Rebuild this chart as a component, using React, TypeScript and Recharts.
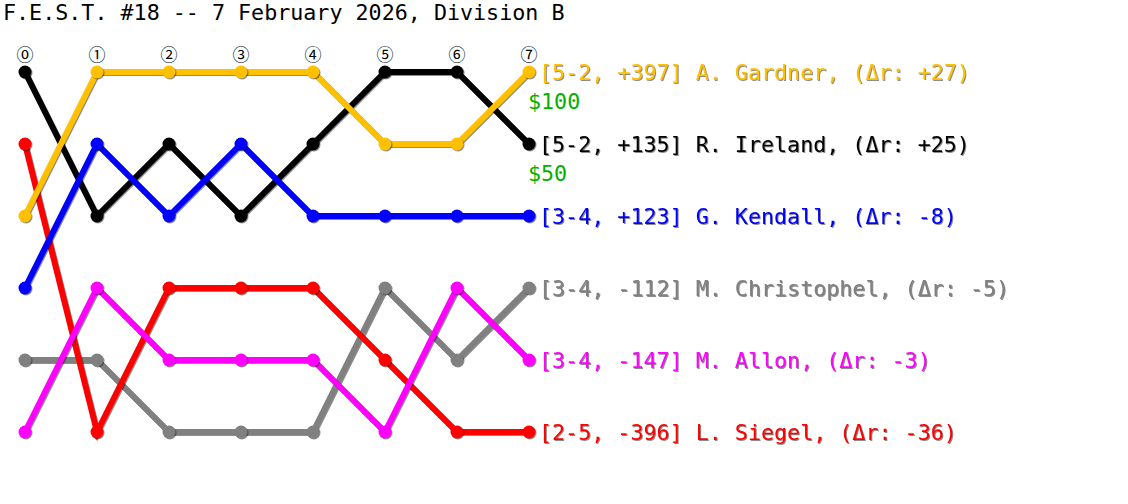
import React from 'react';
import { LineChart, Line, XAxis, YAxis } from 'recharts';

const title = 'F.E.S.T. #18 -- 7 February 2026, Division B';
const rounds = [0, 1, 2, 3, 4, 5, 6, 7];
const roundLabels = ['⓪', '①', '②', '③', '④', '⑤', '⑥', '⑦'];

const gardner = [3, 1, 1, 1, 1, 2, 2, 1];
const ireland = [1, 3, 2, 3, 2, 1, 1, 2];
const kendall = [4, 2, 3, 2, 3, 3, 3, 3];
const christophel = [5, 5, 6, 6, 6, 4, 5, 4];
const allon = [6, 4, 5, 5, 5, 6, 4, 5];
const siegel = [2, 6, 4, 4, 4, 5, 6, 6];

const players = [
  { key: 'christophel', values: christophel, color: '#808080', label: '[3-4, -112] M. Christophel, (Δr: -5)', prize: '' },
  { key: 'ireland', values: ireland, color: '#000000', label: '[5-2, +135] R. Ireland, (Δr: +25)', prize: '$50' },
  { key: 'siegel', values: siegel, color: '#FF0000', label: '[2-5, -396] L. Siegel, (Δr: -36)', prize: '' },
  { key: 'allon', values: allon, color: '#FF00FF', label: '[3-4, -147] M. Allon, (Δr: -3)', prize: '' },
  { key: 'kendall', values: kendall, color: '#0000FF', label: '[3-4, +123] G. Kendall, (Δr: -8)', prize: '' },
  { key: 'gardner', values: gardner, color: '#FFC000', label: '[5-2, +397] A. Gardner, (Δr: +27)', prize: '$100' },
];

const data = rounds.map((r, i) => {
  const row: any = { round: r };
  players.forEach((p) => { row[p.key] = p.values[i]; });
  return row;
});

const FONT = '"DejaVu Sans Mono", monospace';
const SHADOW = 'drop-shadow(1px 1px 0.6px rgba(0,0,0,0.45))';

const makeLabel = (p: any) => (props: any) => {
  const { x, y, index } = props;
  if (index !== rounds.length - 1) return null;
  return (
    <g>
      <text x={x + 10} y={y} dominantBaseline="central" fill={p.color} fontFamily={FONT} fontSize={21.7} style={{ filter: SHADOW }}>
        {p.label}
      </text>
      {p.prize ? (
        <text x={x - 1} y={y + 29} dominantBaseline="central" fill="#00B000" fontFamily={FONT} fontSize={21.7}>
          {p.prize}
        </text>
      ) : null}
    </g>
  );
};

const RoundTick = (props: any) => {
  const { x, y, payload } = props;
  return (
    <text x={x} y={y - 19} textAnchor="middle" dominantBaseline="central" fontFamily='"Noto Sans CJK JP", "DejaVu Sans", sans-serif' fontSize={17} fill="#000">
      {roundLabels[payload.value]}
    </text>
  );
};

export default function App() {
  return (
    <div style={{ position: 'absolute', left: 0, top: 0, width: 1128, height: 504, background: '#fff' }}>
      <style>{`.recharts-line-curve, .recharts-line-dots { filter: ${SHADOW}; }`}</style>
      <div style={{ position: 'absolute', left: 3, top: 0, fontFamily: FONT, fontSize: 21.7, lineHeight: '26px', whiteSpace: 'pre', color: '#000' }}>
        {title}
      </div>
      <LineChart width={1128} height={504} data={data} margin={{ top: 42, right: 599, bottom: 72, left: 25 }}>
        <XAxis
          dataKey="round"
          type="number"
          domain={[0, 7]}
          ticks={rounds}
          orientation="top"
          height={30}
          axisLine={false}
          tickLine={false}
          tickSize={0}
          tickMargin={0}
          tick={<RoundTick />}
          interval={0}
        />
        <YAxis type="number" domain={[1, 6]} reversed hide />
        {players.map((p) => (
          <Line
            key={p.key}
            dataKey={p.key}
            stroke={p.color}
            strokeWidth={6}
            dot={{ r: 6.5, fill: p.color, stroke: 'none' }}
            activeDot={false}
            isAnimationActive={false}
            label={makeLabel(p)}
          />
        ))}
      </LineChart>
    </div>
  );
}
